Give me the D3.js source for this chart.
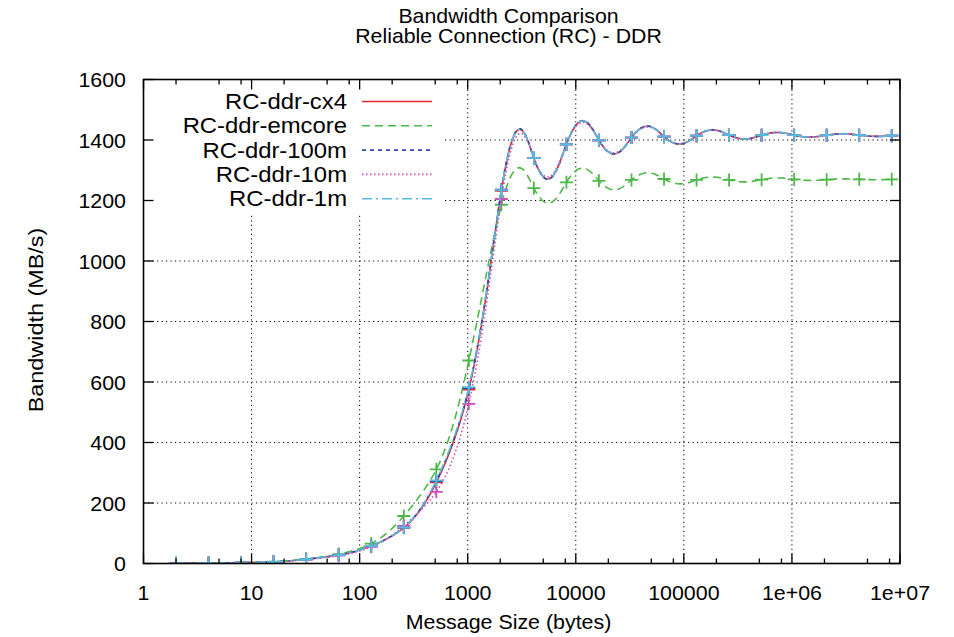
<!DOCTYPE html>
<html>
<head>
<meta charset="utf-8">
<script src="https://cdn.jsdelivr.net/npm/d3@7"></script>
<style>
  html, body { margin: 0; padding: 0; background: #fff; }
  svg text { font-family: "Liberation Sans", Arial, Helvetica, sans-serif; fill: #000; }
</style>
</head>
<body>
<svg id="chart" width="954" height="637"></svg>
<script>
// Message sizes (bytes), powers of two
const sizes = [2, 4, 8, 16, 32, 64, 128, 256, 512, 1024, 2048, 4096, 8192, 16384,
  32768, 65536, 131072, 262144, 524288, 1048576, 2097152, 4194304, 8388608];

// Bandwidth (MB/s) per series
const cx4    = [0.6, 1.3, 2.6, 5.5, 14, 28, 58, 118, 268, 575, 1232, 1340, 1386, 1399, 1408, 1411, 1414, 1416, 1416, 1416, 1416, 1416, 1414];
const emcore = [0.7, 1.4, 2.8, 6.5, 15, 31, 66, 157, 311, 671, 1186, 1241, 1260, 1265, 1268, 1271, 1268, 1268, 1269, 1270, 1269, 1270, 1270];
const m100   = [0.6, 1.3, 2.6, 5.5, 14, 28, 58, 119, 272, 580, 1236, 1340, 1386, 1399, 1408, 1411, 1414, 1416, 1416, 1416, 1416, 1416, 1414];
const m10    = [0.5, 1.2, 2.4, 5.0, 13, 26, 55, 124, 237, 528, 1205, 1340, 1386, 1399, 1408, 1411, 1414, 1416, 1416, 1416, 1416, 1416, 1414];
const m1     = [0.6, 1.3, 2.6, 5.5, 14, 28, 58, 119, 275, 583, 1234, 1340, 1386, 1399, 1408, 1411, 1414, 1416, 1416, 1416, 1416, 1416, 1414];

const seriesNames = ["RC-ddr-cx4", "RC-ddr-emcore", "RC-ddr-100m", "RC-ddr-10m", "RC-ddr-1m"];
const seriesValues = [cx4, emcore, m100, m10, m1];

const xTickValues = [1, 10, 100, 1000, 10000, 100000, 1e6, 1e7];
const xTickLabels = ["1", "10", "100", "1000", "10000", "100000", "1e+06", "1e+07"];
const yTickValues = [0, 200, 400, 600, 800, 1000, 1200, 1400, 1600];

const titleLines = ["Bandwidth Comparison", "Reliable Connection (RC) - DDR"];
const xLabel = "Message Size (bytes)";
const yLabel = "Bandwidth (MB/s)";

// Line styles
const styles = [
  { color: "#e3262f", dash: null },
  { color: "#4db848", dash: "8,5" },
  { color: "#2b4aa8", dash: "4,4" },
  { color: "#cc4fbf", dash: "1.5,2.5" },
  { color: "#56bcdc", dash: "10,4,2,4" }
];

const L = 143.5, R = 900, T = 79.5, B = 563.5;

const svg = d3.select("#chart");
const x = d3.scaleLog().domain([1, 1e7]).range([L, R]);
const y = d3.scaleLinear().domain([0, 1600]).range([B, T]);

// Text with a slightly wider set width
function label(parent, str, px, py, size, sx, anchor, rot) {
  const g = parent.append("g")
    .attr("transform", `translate(${px},${py})${rot ? ` rotate(${rot})` : ""} scale(${sx},1)`);
  g.append("text").attr("text-anchor", anchor).attr("font-size", size).text(str);
  return g;
}

// Natural cubic spline through (xs, ys) in linear x
function cspline(xs, ys) {
  const n = xs.length;
  const h = [], a = new Array(n).fill(0), b = new Array(n).fill(0), c = new Array(n).fill(0), d = new Array(n).fill(0);
  for (let i = 0; i < n - 1; i++) h[i] = xs[i + 1] - xs[i];
  b[0] = 1; b[n - 1] = 1;
  for (let i = 1; i < n - 1; i++) {
    a[i] = h[i - 1];
    b[i] = 2 * (h[i - 1] + h[i]);
    c[i] = h[i];
    d[i] = 6 * ((ys[i + 1] - ys[i]) / h[i] - (ys[i] - ys[i - 1]) / h[i - 1]);
  }
  const cp = new Array(n).fill(0), dp = new Array(n).fill(0);
  cp[0] = c[0] / b[0]; dp[0] = d[0] / b[0];
  for (let i = 1; i < n; i++) {
    const m = b[i] - a[i] * cp[i - 1];
    cp[i] = c[i] / m;
    dp[i] = (d[i] - a[i] * dp[i - 1]) / m;
  }
  const M = new Array(n).fill(0);
  M[n - 1] = dp[n - 1];
  for (let i = n - 2; i >= 0; i--) M[i] = dp[i] - cp[i] * M[i + 1];
  return function (t) {
    let i = 0;
    while (i < n - 2 && t > xs[i + 1]) i++;
    const hi = h[i];
    const A = (xs[i + 1] - t) / hi, Bq = (t - xs[i]) / hi;
    return A * ys[i] + Bq * ys[i + 1] +
      ((A * A * A - A) * M[i] + (Bq * Bq * Bq - Bq) * M[i + 1]) * hi * hi / 6;
  };
}

// Grid
const grid = svg.append("g").attr("stroke", "#000").attr("stroke-width", 1)
  .attr("stroke-dasharray", "1.2,3.3").attr("fill", "none");
xTickValues.slice(1, -1).forEach(v => {
  grid.append("line").attr("x1", x(v)).attr("x2", x(v)).attr("y1", B).attr("y2", T);
});
yTickValues.slice(1, -1).forEach(v => {
  grid.append("line").attr("x1", L).attr("x2", R).attr("y1", y(v)).attr("y2", y(v));
});

// Key background
const keyX0 = 144.5, keyX1 = 445, keyY0 = 80.5, keyY1 = 213;
svg.append("rect").attr("x", keyX0).attr("y", keyY0)
  .attr("width", keyX1 - keyX0).attr("height", keyY1 - keyY0).attr("fill", "#fff");

// Curves and points
svg.append("clipPath").attr("id", "plotclip").append("rect")
  .attr("x", L).attr("y", T).attr("width", R - L).attr("height", B - T);
const plot = svg.append("g").attr("clip-path", "url(#plotclip)");
const line = d3.line().x(d => x(d[0])).y(d => y(d[1]));
const cross = "M-6.5,0H6.5M0,-6.5V6.5";

seriesValues.forEach((vals, si) => {
  const f = cspline(sizes, vals);
  const pts = [];
  for (let i = 0; i < sizes.length - 1; i++) {
    const steps = 40;
    for (let k = 0; k < steps; k++) {
      const t = sizes[i] * Math.pow(sizes[i + 1] / sizes[i], k / steps);
      pts.push([t, f(t)]);
    }
  }
  pts.push([sizes[sizes.length - 1], vals[vals.length - 1]]);
  const st = styles[si];
  plot.append("path").datum(pts).attr("d", line)
    .attr("fill", "none").attr("stroke", st.color).attr("stroke-width", 1.6)
    .attr("stroke-dasharray", st.dash);
  plot.append("g").selectAll("path").data(sizes.map((s, i) => [s, vals[i]])).join("path")
    .attr("transform", d => `translate(${x(d[0])},${y(d[1])})`)
    .attr("d", cross).attr("stroke", st.color).attr("stroke-width", 1.8).attr("fill", "none");
});

// Border
svg.append("rect").attr("x", L).attr("y", T).attr("width", R - L).attr("height", B - T)
  .attr("fill", "none").attr("stroke", "#000").attr("stroke-width", 1.6);

// Ticks on all four sides
const ticks = svg.append("g").attr("stroke", "#000").attr("stroke-width", 1.3);
const minorMult = [2, 5, 8];
xTickValues.forEach((v, i) => {
  ticks.append("line").attr("x1", x(v)).attr("x2", x(v)).attr("y1", B).attr("y2", B - 10);
  ticks.append("line").attr("x1", x(v)).attr("x2", x(v)).attr("y1", T).attr("y2", T + 10);
  if (i < xTickValues.length - 1) {
    minorMult.forEach(m => {
      const mv = v * m;
      ticks.append("line").attr("x1", x(mv)).attr("x2", x(mv)).attr("y1", B).attr("y2", B - 5);
      ticks.append("line").attr("x1", x(mv)).attr("x2", x(mv)).attr("y1", T).attr("y2", T + 5);
    });
  }
});
yTickValues.forEach(v => {
  ticks.append("line").attr("x1", L).attr("x2", L + 10).attr("y1", y(v)).attr("y2", y(v));
  ticks.append("line").attr("x1", R).attr("x2", R - 10).attr("y1", y(v)).attr("y2", y(v));
});

// Tick labels
const fs = 20, sx = 1.07;
const texts = svg.append("g");
xTickValues.forEach((v, i) => label(texts, xTickLabels[i], x(v), B + 36.5, fs, sx, "middle"));
yTickValues.forEach(v => label(texts, String(v), 126, y(v) + 7.5, fs, sx, "end"));

// Titles and axis labels
const textCenter = 508.5;
titleLines.forEach((t, i) => label(texts, t, textCenter, 22.7 + i * 20.6, fs, 1.065, "middle"));
label(texts, xLabel, textCenter, 629, fs, sx, "middle");
label(texts, yLabel, 43, 320, fs, 1.17, "middle", -90);

// Key
seriesNames.forEach((name, i) => {
  const cy = 101.5 + i * 24.3;
  label(texts, name, 347, cy + 7.5, 21.5, 1.11, "end");
  svg.append("line").attr("x1", 362).attr("x2", 432).attr("y1", cy).attr("y2", cy)
    .attr("stroke", styles[i].color).attr("stroke-width", 1.6)
    .attr("stroke-dasharray", styles[i].dash);
});
</script>
</body>
</html>
